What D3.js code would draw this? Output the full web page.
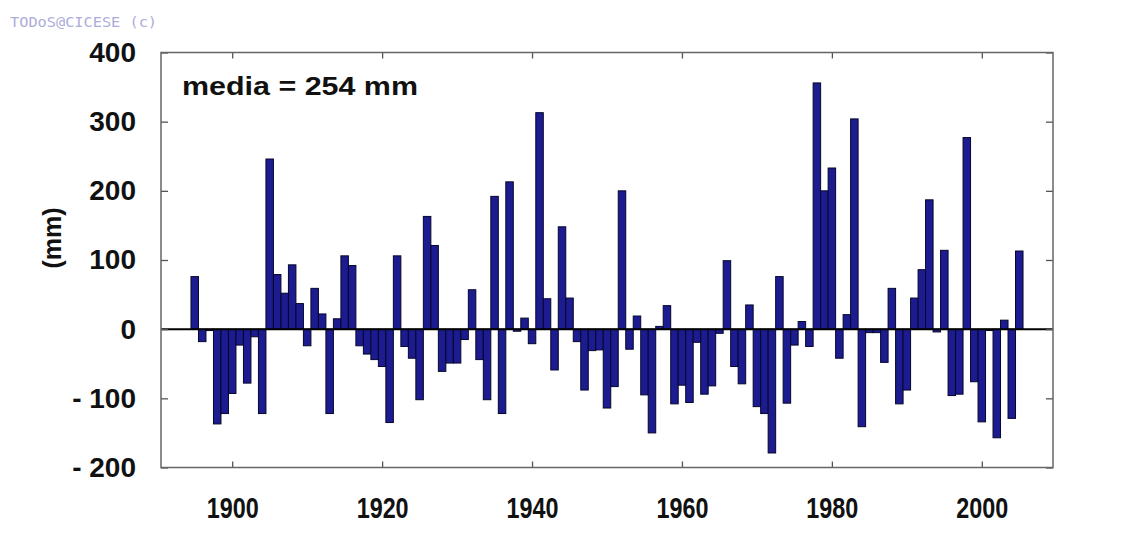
<!DOCTYPE html>
<html><head><meta charset="utf-8">
<script src="https://cdn.jsdelivr.net/npm/d3@7"></script>
<style>html,body{margin:0;padding:0;background:#fff;} svg{display:block;}</style>
</head><body>
<svg id="chart" width="1132" height="548"></svg>
<script>
const years = [
  1895,1896,1897,1898,1899,
  1900,1901,1902,1903,1904,1905,1906,1907,1908,1909,
  1910,1911,1912,1913,1914,1915,1916,1917,1918,1919,
  1920,1921,1922,1923,1924,1925,1926,1927,1928,1929,
  1930,1931,1932,1933,1934,1935,1936,1937,1938,1939,
  1940,1941,1942,1943,1944,1945,1946,1947,1948,1949,
  1950,1951,1952,1953,1954,1955,1956,1957,1958,1959,
  1960,1961,1962,1963,1964,1965,1966,1967,1968,1969,
  1970,1971,1972,1973,1974,1975,1976,1977,1978,1979,
  1980,1981,1982,1983,1984,1985,1986,1987,1988,1989,
  1990,1991,1992,1993,1994,1995,1996,1997,1998,1999,
  2000,2001,2002,2003,2004,2005
];
const anomalies = [
  76, -18, -2, -137, -122,
  -93, -23, -78, -11, -122, 246, 79, 52, 93, 37,
  -24, 59, 22, -122, 15, 106, 92, -24, -36, -44,
  -54, -135, 106, -25, -42, -102, 163, 121, -61, -49,
  -49, -15, 57, -44, -102, 192, -122, 213, -3, 16,
  -21, 313, 44, -59, 148, 45, -18, -88, -31, -30,
  -114, -83, 200, -29, 19, -95, -150, 4, 34, -108,
  -81, -106, -19, -94, -82, -6, 99, -54, -79, 35,
  -112, -122, -179, 76, -107, -23, 11, -25, 356, 200,
  233, -42, 21, 304, -141, -5, -5, -48, 59, -108,
  -88, 45, 86, 187, -4, 114, -96, -94, 277, -76,
  -134, -2, -157, 13, -129, 113
];
const xTicks = [1900, 1920, 1940, 1960, 1980, 2000];
const yTicks = [-200, -100, 0, 100, 200, 300, 400];
const yTickLabels = ["- 200", "- 100", "0", "100", "200", "300", "400"];
const meanLabel = "media = 254 mm";
const yTitle = "(mm)";
const watermark = "TODoS@CICESE (c)";

const W = 1132, H = 548;
const plot = {left: 161, right: 1053, top: 52.5, bottom: 467.5};
const svg = d3.select("#chart");
const x = d3.scaleLinear().domain([1890.5, 2009.5]).range([plot.left, plot.right]);
const y = d3.scaleLinear().domain([-200, 400]).range([plot.bottom, plot.top]);
const font = "'Liberation Sans', Arial, Helvetica, sans-serif";

svg.append("rect").attr("width", W).attr("height", H).attr("fill", "#ffffff");

svg.append("text")
  .attr("x", 10).attr("y", 27)
  .attr("font-family", "'DejaVu Sans Mono', monospace")
  .attr("font-size", 14)
  .attr("fill", "#adadda")
  .attr("textLength", 147).attr("lengthAdjust", "spacingAndGlyphs")
  .text(watermark);

const data = years.map((yr, i) => ({yr, v: anomalies[i]}));
svg.append("g").selectAll("rect").data(data).join("rect")
  .attr("x", d => x(d.yr - 0.5))
  .attr("width", d => x(d.yr + 0.5) - x(d.yr - 0.5))
  .attr("y", d => y(Math.max(0, d.v)))
  .attr("height", d => Math.abs(y(d.v) - y(0)))
  .attr("fill", "#1c1c90")
  .attr("stroke", "#06062a")
  .attr("stroke-width", 1);

svg.append("line")
  .attr("x1", plot.left).attr("x2", plot.right)
  .attr("y1", y(0)).attr("y2", y(0))
  .attr("stroke", "#000").attr("stroke-width", 2);

function styleAxis(g) {
  g.select(".domain").remove();
  g.selectAll(".tick line").attr("stroke", "#555").attr("stroke-width", 1.3);
  g.selectAll(".tick text")
    .attr("font-family", font).attr("font-weight", "bold")
    .attr("font-size", 28).attr("fill", "#111");
}

svg.append("g").attr("transform", `translate(0,${plot.bottom})`)
  .call(d3.axisBottom(x).tickValues(xTicks).tickSize(-6).tickPadding(30).tickFormat(d3.format("d")))
  .call(styleAxis)
  .call(g => g.selectAll(".tick text")
    .attr("font-size", 29)
    .attr("textLength", 52).attr("lengthAdjust", "spacingAndGlyphs"));
svg.append("g").attr("transform", `translate(0,${plot.top})`)
  .call(d3.axisTop(x).tickValues(xTicks).tickSize(-6).tickFormat(""))
  .call(styleAxis);
svg.append("g").attr("transform", `translate(${plot.left},0)`)
  .call(d3.axisLeft(y).tickValues(yTicks).tickSize(-7).tickPadding(25)
    .tickFormat((d, i) => yTickLabels[i]))
  .call(styleAxis);
svg.append("g").attr("transform", `translate(${plot.right},0)`)
  .call(d3.axisRight(y).tickValues(yTicks).tickSize(-7).tickFormat(""))
  .call(styleAxis);

svg.append("rect")
  .attr("x", plot.left).attr("y", plot.top)
  .attr("width", plot.right - plot.left).attr("height", plot.bottom - plot.top)
  .attr("fill", "none").attr("stroke", "#666").attr("stroke-width", 1.5);

svg.append("text")
  .attr("x", 182).attr("y", 95)
  .attr("font-family", font).attr("font-weight", "bold")
  .attr("font-size", 26).attr("fill", "#111")
  .attr("textLength", 236).attr("lengthAdjust", "spacingAndGlyphs")
  .text(meanLabel);

svg.append("text")
  .attr("transform", "translate(52,238) rotate(-90)")
  .attr("text-anchor", "middle").attr("dominant-baseline", "central")
  .attr("font-family", font).attr("font-weight", "bold")
  .attr("font-size", 25).attr("fill", "#111")
  .text(yTitle);
</script>
</body></html>
